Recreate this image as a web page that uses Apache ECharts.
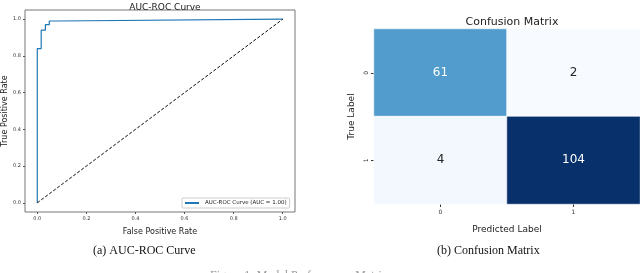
<!DOCTYPE html>
<html><head><meta charset="utf-8">
<script src="https://cdn.jsdelivr.net/npm/echarts@6/dist/echarts.min.js"></script>
<style>html,body{margin:0;padding:0;background:#fff}#c{width:640px;height:273px}</style>
</head><body><div id="c"></div>
<script>
// ROC curve data
const rocFpr = [0, 0, 0.016, 0.016, 0.033, 0.033, 0.049, 0.049, 0.082, 0.082, 1.0];
const rocTpr = [0, 0.84, 0.84, 0.94, 0.94, 0.97, 0.97, 0.99, 0.99, 1.0, 1.0];
const diagX = [0, 1];
const diagY = [0, 1];
const rocTicks = [0, 0.2, 0.4, 0.6, 0.8, 1.0];
// Confusion matrix
const cmLabels = ['0', '1'];
const cmValues = [[61, 2], [4, 104]]; // rows: true, cols: predicted

const chart = echarts.init(document.getElementById('c'), null, {renderer: 'canvas'});
const F = 'DejaVu Sans';
const blues = ['#f7fbff','#deebf7','#c6dbef','#9ecae1','#6baed6','#4292c6','#2171b5','#08519c','#08306b'];
const flat = cmValues.flat();
const vmin = Math.min(...flat), vmax = Math.max(...flat);
const heatData = [];
cmValues.forEach((row, i) => row.forEach((v, j) => {
  heatData.push({value: [j, i, v], label: {color: (v - vmin) / (vmax - vmin) > 0.5 ? '#ffffff' : '#262626'}});
}));

chart.setOption({
  animation: false,
  textStyle: {fontFamily: F},
  title: [
    {text: 'AUC-ROC Curve', left: 160, top: -2, textAlign: 'center', textStyle: {fontFamily: F, fontSize: 9, fontWeight: 'normal', color: '#222'}},
    {text: 'Confusion Matrix', left: 507, top: 12, textAlign: 'center', textStyle: {fontFamily: F, fontSize: 11, fontWeight: 'normal', color: '#222'}}
  ],
  grid: [
    {left: 25, top: 10, width: 270, height: 202, show: true, borderColor: '#777', borderWidth: 1, backgroundColor: 'transparent'},
    {left: 374, top: 29, width: 266, height: 175}
  ],
  legend: {
    data: ['AUC-ROC Curve (AUC = 1.00)'],
    left: 182, top: 198, padding: [2, 3, 2, 3],
    itemWidth: 14, itemHeight: 2, itemGap: 2,
    icon: 'rect',
    borderColor: '#ccc', borderWidth: 1, borderRadius: 1,
    textStyle: {fontFamily: F, fontSize: 5.5, color: '#222', padding: [0, 0, 0, 1]}
  },
  visualMap: {show: false, min: vmin, max: vmax, seriesIndex: 2, inRange: {color: blues}},
  xAxis: [
    {type: 'value', gridIndex: 0, min: -0.05, max: 1.05, position: 'bottom',
     name: 'False Positive Rate', nameLocation: 'middle', nameGap: 16,
     nameTextStyle: {fontFamily: F, fontSize: 8, color: '#222'},
     axisLine: {show: false, onZero: false}, splitLine: {show: false},
     axisTick: {show: true, length: 2, customValues: rocTicks, lineStyle: {color: '#555'}},
     axisLabel: {fontSize: 5, color: '#333', margin: 4, customValues: rocTicks, formatter: v => v.toFixed(1)}},
    {type: 'category', gridIndex: 1, data: cmLabels, position: 'bottom',
     name: 'Predicted Label', nameLocation: 'middle', nameGap: 21,
     nameTextStyle: {fontFamily: F, fontSize: 9, color: '#222'},
     axisLine: {show: false}, splitLine: {show: false},
     axisTick: {show: true, alignWithLabel: true, length: 3, lineStyle: {color: '#333'}},
     axisLabel: {fontSize: 6, color: '#333', margin: 5}}
  ],
  yAxis: [
    {type: 'value', gridIndex: 0, min: -0.05, max: 1.05, position: 'left',
     name: 'True Positive Rate', nameLocation: 'middle', nameGap: 16,
     nameTextStyle: {fontFamily: F, fontSize: 8, color: '#222'},
     axisLine: {show: false, onZero: false}, splitLine: {show: false},
     axisTick: {show: true, length: 2, customValues: rocTicks, lineStyle: {color: '#555'}},
     axisLabel: {fontSize: 5, color: '#333', margin: 4, customValues: rocTicks, formatter: v => v.toFixed(1)}},
    {type: 'category', gridIndex: 1, data: cmLabels, inverse: true,
     name: 'True Label', nameLocation: 'middle', nameGap: 18,
     nameTextStyle: {fontFamily: F, fontSize: 9, color: '#222'},
     axisLine: {show: false}, splitLine: {show: false},
     axisTick: {show: true, alignWithLabel: true, length: 3, lineStyle: {color: '#333'}},
     axisLabel: {fontSize: 6, color: '#333', margin: 5, rotate: 90}}
  ],
  series: [
    {name: 'AUC-ROC Curve (AUC = 1.00)', type: 'line', xAxisIndex: 0, yAxisIndex: 0,
     data: rocFpr.map((x, i) => [x, rocTpr[i]]), showSymbol: false, symbol: 'none',
     lineStyle: {color: '#1f77b4', width: 1.2}, itemStyle: {color: '#1f77b4'}},
    {name: 'diag', type: 'line', xAxisIndex: 0, yAxisIndex: 0,
     data: diagX.map((x, i) => [x, diagY[i]]), showSymbol: false, symbol: 'none',
     lineStyle: {color: '#000', width: 1, type: [3, 2]}},
    {type: 'heatmap', xAxisIndex: 1, yAxisIndex: 1, data: heatData,
     itemStyle: {borderColor: '#ffffff', borderWidth: 0.6},
     label: {show: true, fontFamily: F, fontSize: 12}}
  ],
  graphic: [
    {type: 'text', left: 93, top: 245, style: {text: '(a) AUC-ROC Curve', font: '12px "Liberation Serif"', fill: '#111'}},
    {type: 'text', left: 437, top: 245, style: {text: '(b) Confusion Matrix', font: '12px "Liberation Serif"', fill: '#111'}},
    {type: 'text', left: 210, top: 270, style: {text: 'Figure 1: Model Performance Metrics', font: '12px "Liberation Serif"', fill: '#999'}}
  ]
});
</script></body></html>
